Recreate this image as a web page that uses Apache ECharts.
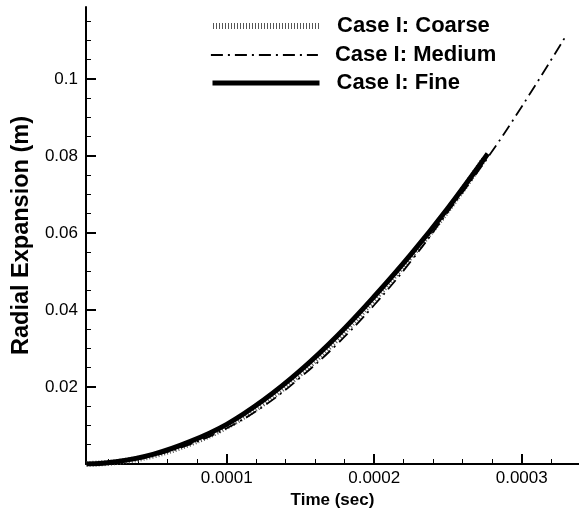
<!DOCTYPE html>
<html>
<head>
<meta charset="utf-8">
<script src="https://cdn.jsdelivr.net/npm/echarts@6/dist/echarts.min.js"></script>
<style>html,body{margin:0;padding:0;background:#fff;}#c{width:579px;height:514px;}</style>
</head>
<body>
<div id="c"></div>
<script>
// ---- data ----
const seriesNames = ['Case I: Coarse', 'Case I: Medium', 'Case I: Fine'];

const timeCoarse = [0.000005, 0.000025, 0.00005, 0.000075, 0.0001, 0.000125, 0.00015, 0.000175, 0.0002, 0.000225, 0.00025, 0.000275];
const radialCoarse = [0, 0.0005, 0.0022, 0.0053, 0.0097, 0.0158, 0.0235, 0.0325, 0.0428, 0.054, 0.066, 0.0795];

const timeMedium = [0.000005, 0.000025, 0.00005, 0.000075, 0.0001, 0.000125, 0.00015, 0.000175, 0.0002, 0.000225, 0.00025, 0.000275, 0.0003, 0.00033];
const radialMedium = [0, 0.0005, 0.0021, 0.0051, 0.0093, 0.015, 0.0225, 0.0312, 0.0413, 0.0527, 0.0655, 0.0785, 0.0928, 0.1112];

const timeFine = [0.000005, 0.000025, 0.00005, 0.000075, 0.0001, 0.000125, 0.00015, 0.000175, 0.0002, 0.000225, 0.00025, 0.000277];
const radialFine = [0, 0.0006, 0.0025, 0.0058, 0.0103, 0.0166, 0.0243, 0.0333, 0.0435, 0.0545, 0.0665, 0.0806];

const xMajorTicks = [0.0001, 0.0002, 0.0003];
const xMinorTicks = [0.00002, 0.00004, 0.00006, 0.00008, 0.00012, 0.00014, 0.00016, 0.00018, 0.00022, 0.00024, 0.00026, 0.00028, 0.00032];
const yMajorTicks = [0.02, 0.04, 0.06, 0.08, 0.1];
const yMinorTicks = [0.005, 0.01, 0.015, 0.025, 0.03, 0.035, 0.045, 0.05, 0.055, 0.065, 0.07, 0.075, 0.085, 0.09, 0.095, 0.105, 0.11, 0.115];

const xRange = [0.0000046, 0.00033885];
const yRange = [0, 0.1187];

// ---- chart ----
const FONT = '"Liberation Sans", Arial, Helvetica, sans-serif';
const pairs = (xs, ys) => xs.map((x, i) => [x, ys[i]]);

const styles = [
  {color: '#555', width: 6, type: [1, 2]},
  {color: '#000', width: 1.8, type: [12, 5, 2, 5]},
  {color: '#000', width: 5, type: 'solid'}
];

const chart = echarts.init(document.getElementById('c'), null, {renderer: 'canvas'});

function mkLegend(i, top) {
  return {
    data: [seriesNames[i]], left: 210, top: top, padding: 0,
    itemWidth: 107, itemHeight: 14,
    itemStyle: {opacity: 0, borderWidth: 0},
    lineStyle: Object.assign({}, styles[i]),
    textStyle: {fontFamily: FONT, fontSize: 22, fontWeight: 'bold', color: '#000', padding: [0, 0, 0, 12]},
    selectedMode: false
  };
}

const baseX = {type: 'value', position: 'bottom', offset: 0, min: xRange[0], max: xRange[1], splitLine: {show: false}};
const baseY = {type: 'value', position: 'left', offset: 0, min: yRange[0], max: yRange[1], splitLine: {show: false}};

chart.setOption({
  animation: false,
  backgroundColor: '#fff',
  grid: {left: 86, right: 0, top: 7, bottom: 50, containLabel: false},
  legend: [mkLegend(0, 15), mkLegend(1, 44), mkLegend(2, 72)],
  xAxis: [
    Object.assign({}, baseX, {
      name: 'Time (sec)', nameLocation: 'middle', nameGap: 28,
      nameTextStyle: {fontFamily: FONT, fontSize: 17, fontWeight: 'bold', color: '#000'},
      axisLine: {show: true, onZero: false, lineStyle: {color: '#000', width: 2}},
      axisTick: {show: true, inside: true, length: 10, lineStyle: {color: '#000', width: 2}, customValues: xMajorTicks},
      axisLabel: {show: true, margin: 6, fontFamily: FONT, fontSize: 17, color: '#000', customValues: xMajorTicks,
        formatter: v => Number(v).toFixed(4)}
    }),
    Object.assign({}, baseX, {
      axisLine: {show: false, onZero: false},
      axisTick: {show: true, inside: true, length: 5, lineStyle: {color: '#000', width: 1}, customValues: xMinorTicks},
      axisLabel: {show: false}
    })
  ],
  yAxis: [
    Object.assign({}, baseY, {
      name: 'Radial Expansion (m)', nameLocation: 'middle', nameGap: 48,
      nameTextStyle: {fontFamily: FONT, fontSize: 23.5, fontWeight: 'bold', color: '#000'},
      axisLine: {show: true, onZero: false, lineStyle: {color: '#000', width: 2}},
      axisTick: {show: true, inside: true, length: 10, lineStyle: {color: '#000', width: 2}, customValues: yMajorTicks},
      axisLabel: {show: true, margin: 8, fontFamily: FONT, fontSize: 17, color: '#000', customValues: yMajorTicks,
        formatter: v => String(Number(Number(v).toFixed(4)))}
    }),
    Object.assign({}, baseY, {
      axisLine: {show: false, onZero: false},
      axisTick: {show: true, inside: true, length: 5, lineStyle: {color: '#000', width: 1}, customValues: yMinorTicks},
      axisLabel: {show: false}
    })
  ],
  series: [
    {name: seriesNames[0], type: 'line', data: pairs(timeCoarse, radialCoarse), smooth: 0.4,
      showSymbol: false, symbol: 'none', clip: true, lineStyle: styles[0]},
    {name: seriesNames[1], type: 'line', data: pairs(timeMedium, radialMedium), smooth: 0.4,
      showSymbol: false, symbol: 'none', clip: true, lineStyle: styles[1]},
    {name: seriesNames[2], type: 'line', data: pairs(timeFine, radialFine), smooth: 0.4,
      showSymbol: false, symbol: 'none', clip: true, lineStyle: styles[2]}
  ]
});
</script>
</body>
</html>
